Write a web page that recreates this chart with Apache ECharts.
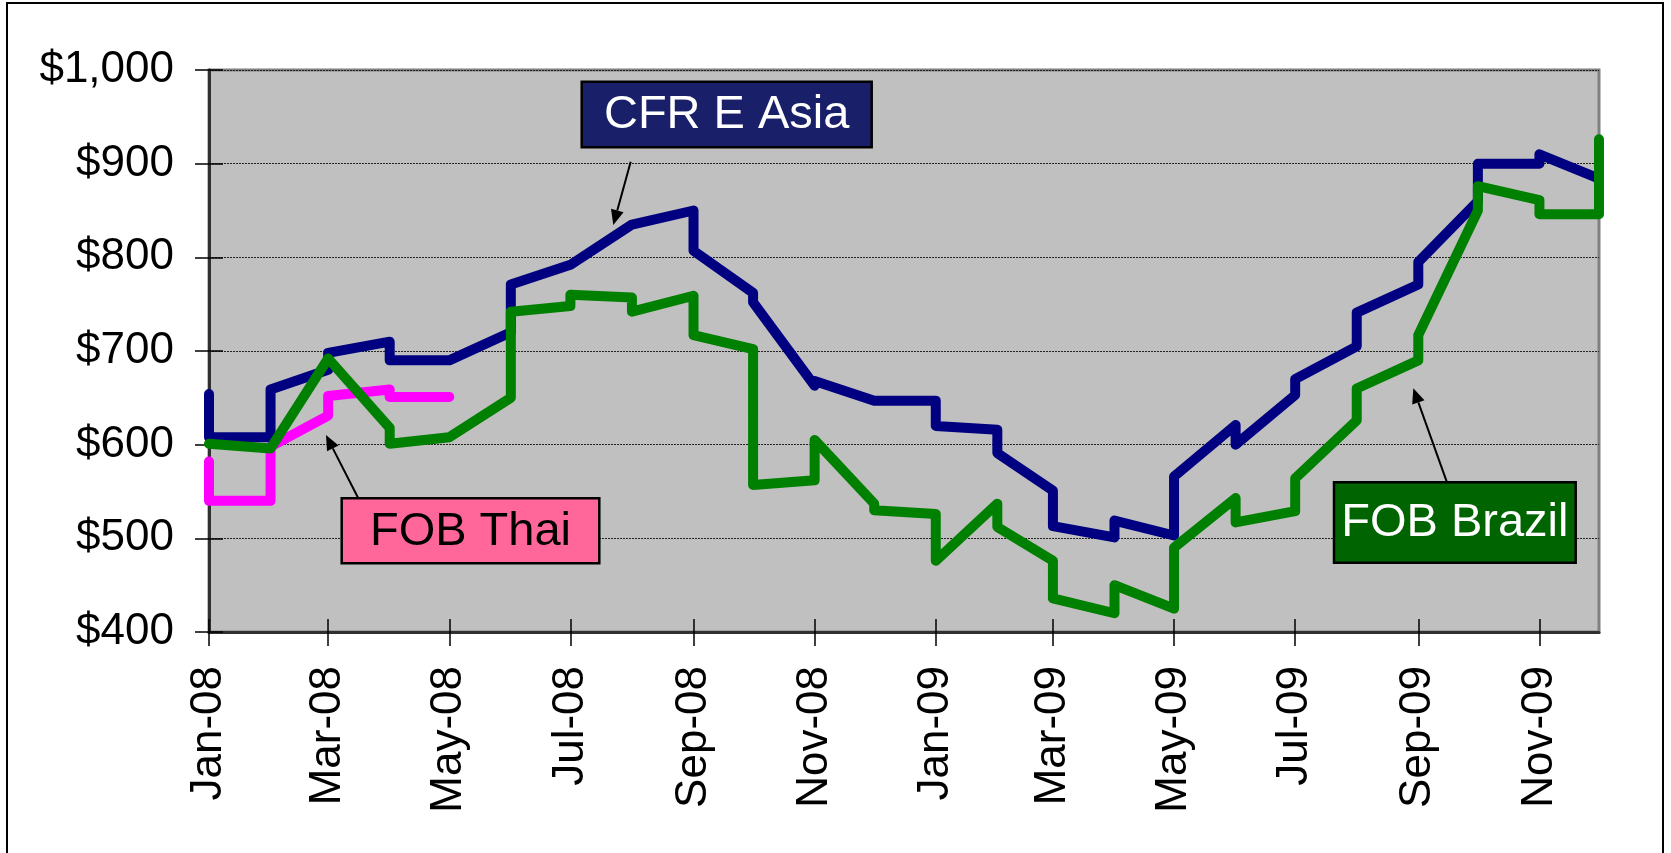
<!DOCTYPE html>
<html>
<head>
<meta charset="utf-8">
<script src="https://cdn.jsdelivr.net/npm/echarts@6/dist/echarts.min.js"></script>
<style>
html,body{margin:0;padding:0;background:#fff;}
#chart{width:1671px;height:853px;}
</style>
</head>
<body>
<div id="chart"></div>
<script>
// ---- Data (first of each month; [start, end] where the price steps within the month) ----
const months = ['2008-01','2008-02','2008-03','2008-04','2008-05','2008-06','2008-07','2008-08',
  '2008-09','2008-10','2008-11','2008-12','2009-01','2009-02','2009-03','2009-04','2009-05',
  '2009-06','2009-07','2009-08','2009-09','2009-10','2009-11','2009-12'];

const cfrEAsia = [[654,608],[608,659],[680,698],[710,690],[690],[720,771],[792],[835],
  [850,807],[762,752],[663,668],[647],[647,620],[616,591],[551,513],[501,519],[503,566],
  [621,600],[653,670],[705,741],[771,795],[860,900],[900,910],[884]];

const fobBrazil = [[601],[596],[692],[618,601],[608],[650,742],[748,760],[757,742],
  [759,717],[702,557],[562,605],[537,530],[526,476],[537,512],[476,436],[420,450],[425,490],
  [543,517],[529,564],[626,660],[690,717],[850,876],[861,846],[846,926]];

const fobThai = [[582,540],[540,598],[631,652],[659,651],[651]];

const xTickMonths = ['2008-01','2008-03','2008-05','2008-07','2008-09','2008-11',
  '2009-01','2009-03','2009-05','2009-07','2009-09','2009-11'];
const xTickLabels = ['Jan-08','Mar-08','May-08','Jul-08','Sep-08','Nov-08',
  'Jan-09','Mar-09','May-09','Jul-09','Sep-09','Nov-09'];

const seriesNames = ['FOB Thai','CFR E Asia','FOB Brazil'];

// ---- helpers ----
function ts(m){ const [y,mo]=m.split('-').map(Number); return Date.UTC(y, mo-1, 1); }
function build(vals){
  const out=[];
  vals.forEach((p,i)=>{ const t=ts(months[i]); p.forEach(v=>out.push([t,v])); });
  return out;
}
const tickTs = xTickMonths.map(ts);
const labelMap = {}; tickTs.forEach((t,i)=>labelMap[t]=xTickLabels[i]);
const xMin = ts(months[0]), xMax = ts(months[months.length-1]);

const chart = echarts.init(document.getElementById('chart'), null, {renderer:'canvas'});
const FONT = "'Liberation Sans', Arial, sans-serif";

const gridRect = {left:209, top:70, right:72, bottom:221};

function arrow(x1,y1,x2,y2){
  const dx=x2-x1, dy=y2-y1, L=Math.sqrt(dx*dx+dy*dy), ux=dx/L, uy=dy/L;
  const hl=15, hw=6.5;
  const bx=x2-ux*hl, by=y2-uy*hl;
  return [
    {type:'line', shape:{x1:x1,y1:y1,x2:bx,y2:by}, style:{stroke:'#000', lineWidth:2}, z:100},
    {type:'polygon', shape:{points:[[x2,y2],[bx-uy*hw,by+ux*hw],[bx+uy*hw,by-ux*hw]]}, style:{fill:'#000'}, z:100}
  ];
}
function box(x,y,w,h,fill,text,color){
  return [
    {type:'rect', shape:{x:x,y:y,width:w,height:h}, style:{fill:fill, stroke:'#000', lineWidth:2.5}, z:100},
    {type:'text', x:x+w/2, y:y+h/2+1, style:{text:text, fill:color, font:'47px '+FONT, align:'center', verticalAlign:'middle'}, z:101}
  ];
}

const graphics = [
  {type:'rect', shape:{x:7,y:3,width:1656,height:870}, style:{fill:'none', stroke:'#000', lineWidth:2}, z:0, silent:true},
  ...box(581.7,81.7,290,65.6,'#1A1F6A','CFR E Asia','#fff'),
  ...arrow(630.7,161.7,613.3,225),
  ...box(341.7,498.3,257.6,65,'#FF6699','FOB Thai','#000'),
  ...arrow(358.3,498.3,326,435),
  ...box(1334,482.3,241.7,80.4,'#006400','FOB Brazil','#fff'),
  ...arrow(1446.7,481.7,1413.3,388.3)
];

const option = {
  animation:false,
  backgroundColor:'#fff',
  grid:{...gridRect, show:true, backgroundColor:'#C0C0C0', borderColor:'#808080', borderWidth:3},
  xAxis:[{
    type:'value', min:xMin, max:xMax, position:'bottom',
    axisLine:{show:true, lineStyle:{color:'#303030', width:3}},
    axisTick:{show:true, length:14, inside:false, customValues:tickTs, lineStyle:{color:'#000', width:1.5}},
    axisLabel:{show:true, customValues:tickTs, rotate:90, margin:34, color:'#000',
      fontFamily:FONT, fontSize:44, formatter:(v)=>labelMap[v] || ''},
    splitLine:{show:false}
  },{
    type:'value', min:xMin, max:xMax, position:'bottom',
    axisLine:{show:false},
    axisTick:{show:true, length:13, inside:true, customValues:tickTs, lineStyle:{color:'#000', width:1.5}},
    axisLabel:{show:false}, splitLine:{show:false}
  }],
  yAxis:[{
    type:'value', min:400, max:1000, interval:100, position:'left',
    axisLine:{show:true, lineStyle:{color:'#303030', width:3}},
    axisTick:{show:true, length:14, inside:false, lineStyle:{color:'#000', width:1.5}},
    axisLabel:{margin:35, color:'#000', fontFamily:FONT, fontSize:44,
      formatter:(v)=>'$'+v.toLocaleString('en-US')},
    splitLine:{show:true, lineStyle:{color:'#222', width:1, type:[2,1]}}
  },{
    type:'value', min:400, max:1000, interval:100, position:'left',
    axisLine:{show:false},
    axisTick:{show:true, length:14, inside:true, lineStyle:{color:'#000', width:1.5}},
    axisLabel:{show:false}, splitLine:{show:false}
  }],
  series:[
    {name:seriesNames[0], type:'line', data:build(fobThai), showSymbol:false, clip:false, z:3,
      lineStyle:{color:'#FF00FF', width:10, cap:'round', join:'round'}},
    {name:seriesNames[1], type:'line', data:build(cfrEAsia), showSymbol:false, clip:false, z:4,
      lineStyle:{color:'#000080', width:10, cap:'round', join:'round'}},
    {name:seriesNames[2], type:'line', data:build(fobBrazil), showSymbol:false, clip:false, z:5,
      lineStyle:{color:'#008000', width:10, cap:'round', join:'round'}}
  ],
  graphic:graphics
};
chart.setOption(option);
</script>
</body>
</html>
